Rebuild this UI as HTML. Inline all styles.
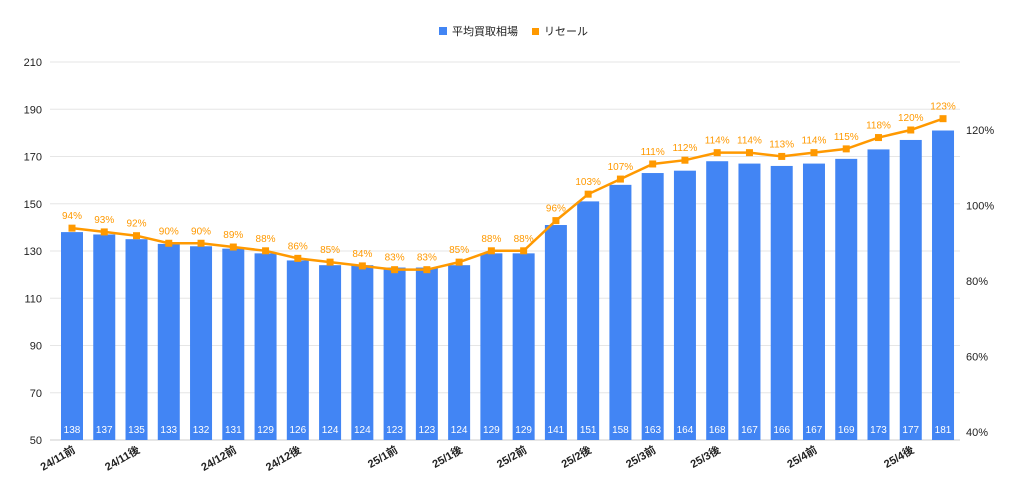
<!DOCTYPE html>
<html><head><meta charset="utf-8"><style>
body{margin:0;background:#fff;font-family:"Liberation Sans","Noto Sans CJK JP",sans-serif}
svg text{font-family:"Liberation Sans","Noto Sans CJK JP",sans-serif}
</style></head><body>
<svg id="c" width="1024" height="496">
<g id="legend">
<g><rect x="439" y="27" width="8" height="8" fill="#4285f4"/><text x="452" y="35" font-size="11" fill="#222">平均買取相場</text></g>
<g><rect x="532" y="28" width="7" height="7" fill="#ff9900"/><text x="544" y="35" font-size="11" fill="#222">リセール</text></g>
</g>
</svg>
<script>
const categories=["24/11前","","24/11後","","","24/12前","","24/12後","","","25/1前","","25/1後","","25/2前","","25/2後","","25/3前","","25/3後","","","25/4前","","","25/4後",""];
const priceValues=[138,137,135,133,132,131,129,126,124,124,123,123,124,129,129,141,151,158,163,164,168,167,166,167,169,173,177,181];
const resaleValues=[94,93,92,90,90,89,88,86,85,84,83,83,85,88,88,96,103,107,111,112,114,114,113,114,115,118,120,123];
const leftTicks=[50,70,90,110,130,150,170,190,210];
const rightTicks=[40,60,80,100,120];
const NS="http://www.w3.org/2000/svg",svg=document.getElementById('c');
function mk(t,a,p){const e=document.createElementNS(NS,t);for(const k in a)e.setAttribute(k,a[k]);(p||svg).appendChild(e);return e;}
const x0=50,x1=960,step=32.26,firstX=72;
const yL=v=>440-(v-50)*(378/160);
const yR=v=>432-(v-40)*(302/80);
const xC=i=>firstX+i*step;
const gridG=mk('g',{});


leftTicks.forEach(t=>{
  const l=mk('line',{x1:x0,x2:x1,y1:yL(t),y2:yL(t),stroke:t===50?'#ccc':'#e6e6e6','stroke-width':1},gridG);
  
  
  const tx=mk('text',{x:42,y:yL(t)+4,'font-size':11,'text-anchor':'end',fill:'#222'});
  tx.textContent=t;
  
  
});
rightTicks.forEach(t=>{
  const tx=mk('text',{x:966,y:yR(t)+4,'font-size':11,fill:'#222'});
  tx.textContent=t+'%';
  
  
});
priceValues.forEach((v,i)=>{
  const r=mk('rect',{x:xC(i)-11,y:yL(v),width:22,height:440-yL(v),fill:'#4285f4'});
  
  
  const t=mk('text',{x:xC(i),y:433,'font-size':10,'text-anchor':'middle',fill:'#fff'});
  t.textContent=v;
  
  
});
const pl=mk('polyline',{points:resaleValues.map((v,i)=>xC(i)+','+yR(v)).join(' '),fill:'none',stroke:'#ff9900','stroke-width':2.5});


resaleValues.forEach((v,i)=>{
  const r=mk('rect',{x:xC(i)-3.5,y:yR(v)-3.5,width:7,height:7,fill:'#ff9900'});
  
  
  const t=mk('text',{x:xC(i),y:yR(v)-9,'font-size':10,'text-anchor':'middle',fill:'#ff9900'});
  t.textContent=v+'%';
  
  
});
categories.forEach((c,i)=>{
  if(!c)return;
  const t=mk('text',{x:xC(i)+4,y:452,'font-size':11,'font-weight':'bold','text-anchor':'end',fill:'#222',transform:'rotate(-30 '+(xC(i)+4)+' 452)'});
  t.textContent=c;
  
  
});
</script>
</body></html>
